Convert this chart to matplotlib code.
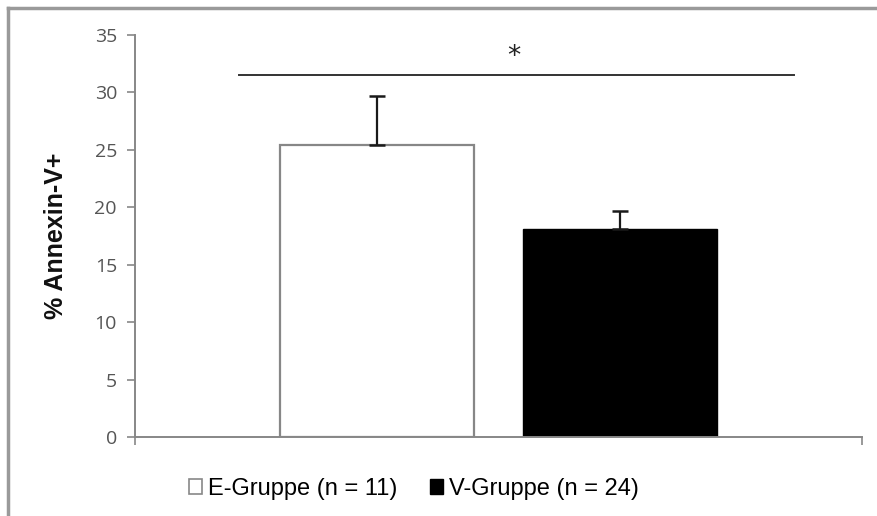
import matplotlib
matplotlib.use('Agg')
import matplotlib.pyplot as plt
from matplotlib.lines import Line2D
from matplotlib.patches import Patch

groups = ['E-Gruppe (n = 11)', 'V-Gruppe (n = 24)']
means = [25.4, 18.1]
errs = [4.3, 1.6]
yticks = [0, 5, 10, 15, 20, 25, 30, 35]
sig_level = 31.5
sig_span = (-0.57, 1.72)

W, H = 877, 516
fig = plt.figure(figsize=(W / 100, H / 100), dpi=100)
ax = fig.add_axes([135 / W, 1 - 437 / H, 727 / W, 402 / H])

grey = '#878787'
pos = [0, 1]
ax.bar(pos[0], means[0], width=0.8, color='white', edgecolor=grey, linewidth=1.6)
ax.bar(pos[1], means[1], width=0.8, color='black', edgecolor='black', linewidth=1)
for x, m, e in zip(pos, means, errs):
    ax.errorbar(x, m, yerr=[[0], [e]], fmt='none', ecolor='#1a1a1a',
                elinewidth=1.6, capsize=6, capthick=1.8, zorder=3)

# significance line and star
ax.plot(sig_span, [sig_level, sig_level], color='#333333', lw=1.4, clip_on=False)
ax.text(0.565, 33.1, '*', ha='center', va='center', fontsize=19,
        family='DejaVu Sans', color='#222222')

ax.set_xlim(-1, 2)
ax.set_ylim(0, 35)
ax.set_yticks(yticks)
ax.set_yticklabels([str(t) for t in yticks], family='Open Sans', fontsize=14, color='#555555')
ax.set_xticks([-1, 2])
ax.set_xticklabels([])
ax.tick_params(axis='y', direction='out', length=6, width=1.2, color=grey, pad=7)
ax.tick_params(axis='x', direction='out', length=6, width=1.2, color=grey)
for s in ['top', 'right']:
    ax.spines[s].set_visible(False)
for s in ['left', 'bottom']:
    ax.spines[s].set_color(grey)
    ax.spines[s].set_linewidth(1.4)

ax.set_ylabel('% Annexin-V+', family='Liberation Sans', fontsize=18,
              fontweight='bold', labelpad=19, color='#111111')

handles = [Patch(facecolor='white', edgecolor=grey, lw=1.2),
           Patch(facecolor='black', edgecolor='black')]
fig.legend(handles, groups, loc='center', bbox_to_anchor=(414 / W, 1 - 489 / H),
           ncol=2, frameon=False, handlelength=0.55, handleheight=0.6,
           handletextpad=0.25, columnspacing=1.4,
           prop={'family': 'Liberation Sans', 'size': 17})

# outer frame (top and left edges visible)
fig.add_artist(Line2D([8 / W, 1], [1 - 8 / H, 1 - 8 / H], color='#9a9a9a', lw=2.5,
                      transform=fig.transFigure))
fig.add_artist(Line2D([8 / W, 8 / W], [0, 1 - 8 / H], color='#9a9a9a', lw=2.5,
                      transform=fig.transFigure))

fig.savefig('out.png', dpi=100)
